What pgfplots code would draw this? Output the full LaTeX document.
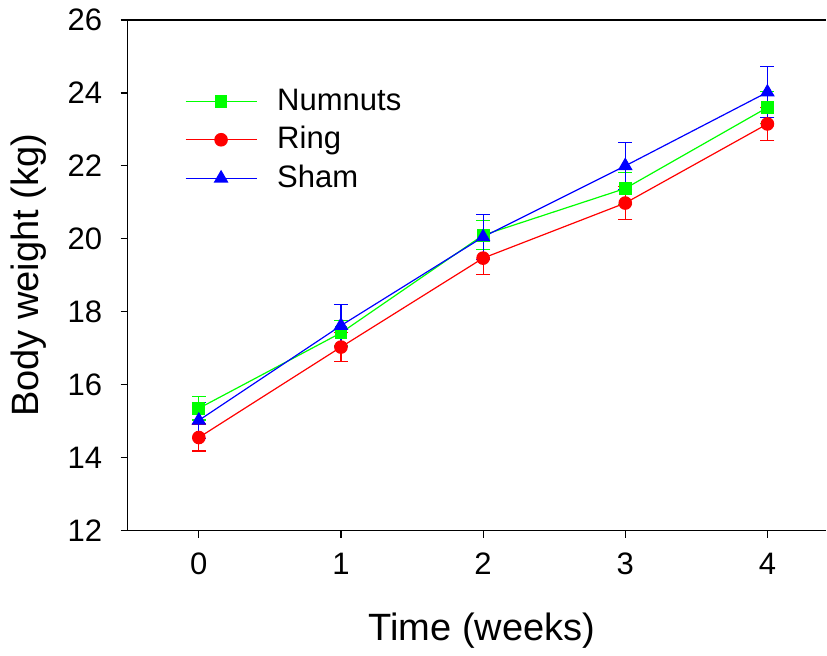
\documentclass[border=0pt]{standalone}
\usepackage{pgfplots}
\pgfplotsset{compat=1.18}
\usepackage{fontspec}
\setmainfont{Liberation Sans}
\definecolor{cgreen}{RGB}{0,255,0}
\definecolor{cred}{RGB}{255,0,0}
\definecolor{cblue}{RGB}{0,0,255}
\pgfplotstableread{
x y e
0 15.35 0.32
1 17.42 0.35
2 20.10 0.40
3 21.38 0.43
4 23.60 0.43
}\numnuts
\pgfplotstableread{
x y e
0 14.55 0.37
1 17.03 0.40
2 19.47 0.45
3 20.98 0.45
4 23.15 0.45
}\ring
\pgfplotstableread{
x y e
0 15.02 0.50
1 17.62 0.58
2 20.05 0.62
3 22.00 0.65
4 24.02 0.70
}\sham
\begin{document}
\begin{tikzpicture}
\begin{axis}[
  scale only axis, width=698pt, height=510pt,
  xmin=-0.5, xmax=4.415, ymin=12, ymax=26,
  axis x line*=box, axis y line*=left,
  xtick={0,1,2,3,4}, ytick={12,14,16,18,20,22,24,26},
  xtick pos=bottom, ytick pos=left,
  tick align=outside, major tick length=7pt,
  minor tick num=0,
  axis line style={line width=1.2pt, black},
  every tick/.style={line width=1.2pt, black},
  /pgf/number format/assume math mode=true,
  tick label style={font=\fontsize{31}{31}\selectfont},
  yticklabel style={xshift=-15pt, inner ysep=2pt},
  xticklabel style={yshift=-12pt},
  xlabel={Time (weeks)}, ylabel={Body weight (kg)},
  label style={font=\fontsize{38}{38}\selectfont},
  xlabel style={at={(axis description cs:0.507,0)}, anchor=base, inner sep=0pt, yshift=-110pt},
  ylabel style={at={(axis description cs:0,0.5)}, anchor=south, inner xsep=0pt, inner ysep=11pt, yshift=70pt},
  legend cell align=left,
  legend style={draw=none, fill=none, inner sep=0pt, at={(axis cs:-0.099,24.19)}, anchor=north west,
    font=\fontsize{31}{31}\selectfont, row sep=8.5pt, column sep=20pt,
    nodes={inner sep=0pt, text height=24pt, text depth=6pt}},
  legend image code/.code={\draw[mark repeat=2,mark phase=2,yshift=0pt] plot coordinates {(0pt,0pt)(35.5pt,0pt)(71pt,0pt)};},
  error bars/error bar style={line width=1.2pt},
  error bars/error mark options={rotate=90, mark size=7pt, line width=1.2pt},
]
\addplot[cgreen, line width=1.2pt, mark=square*, mark size=5.8pt, mark options={solid},
  error bars/.cd, y dir=both, y explicit] table[x=x, y=y, y error=e] {\numnuts};
\addlegendentry{Numnuts}
\addplot[cred, line width=1.2pt, mark=*, mark size=6.2pt, mark options={solid},
  error bars/.cd, y dir=both, y explicit] table[x=x, y=y, y error=e] {\ring};
\addlegendentry{Ring}
\addplot[cblue, line width=1.2pt, mark=triangle*, mark size=7.3pt, mark options={solid},
  error bars/.cd, y dir=both, y explicit] table[x=x, y=y, y error=e] {\sham};
\addlegendentry{Sham}
\end{axis}
\path (current axis.north west) ++(0,20pt) -- (current axis.south west) ++(0,-125pt);
\end{tikzpicture}
\end{document}
